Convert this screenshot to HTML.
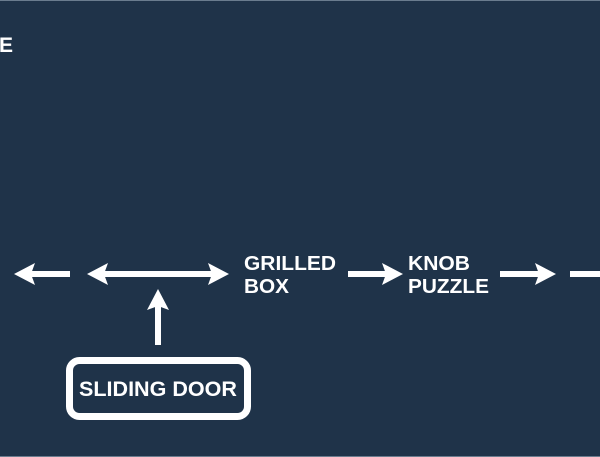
<!DOCTYPE html>
<html><head><meta charset="utf-8"><style>
html,body{margin:0;padding:0;width:600px;height:457px;overflow:hidden;background:#1f3349;}
svg{display:block}
text{font-family:"Liberation Sans",Arial,sans-serif;font-weight:bold;fill:#fff;}
</style></head><body>
<svg width="600" height="457" viewBox="0 0 600 457">
<rect x="0" y="0" width="600" height="457" fill="#1f3349"/>
<rect x="0" y="0" width="600" height="1" fill="#6a7c8e"/>
<rect x="0" y="456" width="600" height="1" fill="#6a7c8e"/>
<text x="13" y="52" font-size="21" text-anchor="end">E</text>
<g fill="#fff">
<rect x="30" y="271" width="40" height="6"/>
<polygon points="14,274 35,263 31,274 35,285"/>
<rect x="100" y="271" width="116" height="6"/>
<polygon points="87,274 108,263 104,274 108,285"/>
<polygon points="229,274 208,263 212,274 208,285"/>
<rect x="155" y="302" width="6" height="43"/>
<polygon points="158,289 147,310 158,306 169,310"/>
<rect x="348" y="271" width="42" height="6"/>
<polygon points="403,274 382,263 386,274 382,285"/>
<rect x="500" y="271" width="42" height="6"/>
<polygon points="556,274 535,263 539,274 535,285"/>
<rect x="570" y="271" width="30" height="6"/>
</g>
<rect x="69.5" y="360.5" width="178" height="56" rx="10" fill="none" stroke="#fff" stroke-width="7"/>
<text x="79" y="396" font-size="21" textLength="158" lengthAdjust="spacingAndGlyphs">SLIDING DOOR</text>
<text x="244" y="270" font-size="20" textLength="92" lengthAdjust="spacingAndGlyphs">GRILLED</text>
<text x="244" y="293" font-size="20" textLength="45" lengthAdjust="spacingAndGlyphs">BOX</text>
<text x="408" y="270" font-size="20" textLength="62" lengthAdjust="spacingAndGlyphs">KNOB</text>
<text x="408" y="293" font-size="20" textLength="81" lengthAdjust="spacingAndGlyphs">PUZZLE</text>
</svg>
</body></html>
